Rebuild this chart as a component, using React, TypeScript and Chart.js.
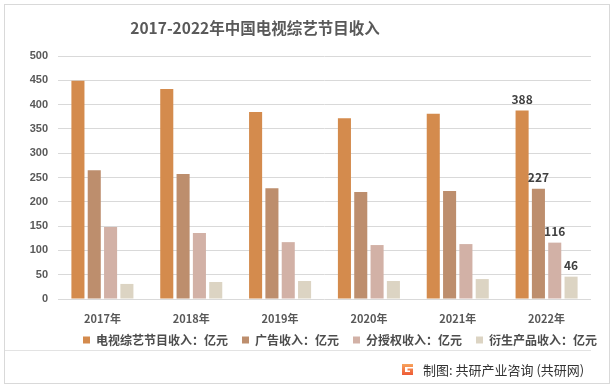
import React, { useEffect, useRef } from "react";
import { Chart, registerables } from "chart.js";

Chart.register(...registerables);

const categories = ["2017年", "2018年", "2019年", "2020年", "2021年", "2022年"];
const tvShowRevenue = [449, 432, 385, 372, 381, 388];
const adRevenue = [265, 257, 228, 220, 222, 227];
const licensingRevenue = [148, 136, 117, 111, 113, 116];
const derivativeRevenue = [31, 35, 37, 37, 41, 46];
const seriesNames = [
  "电视综艺节目收入：亿元",
  "广告收入：亿元",
  "分授权收入：亿元",
  "衍生产品收入：亿元",
];
const seriesColors = ["#D48B4D", "#BD8E6D", "#D2B1A6", "#DCD4C3"];
const yTicks = [0, 50, 100, 150, 200, 250, 300, 350, 400, 450, 500];

const CJK = '"Noto Sans CJK SC", "Noto Sans", sans-serif';

const lastLabelsPlugin = {
  id: "lastLabels",
  afterDatasetsDraw(chart: any) {
    const ctx = chart.ctx;
    ctx.save();
    ctx.font = `bold 12px ${CJK}`;
    ctx.fillStyle = "#404040";
    ctx.textAlign = "center";
    ctx.textBaseline = "bottom";
    chart.data.datasets.forEach((ds: any, i: number) => {
      const meta = chart.getDatasetMeta(i);
      const idx = ds.data.length - 1;
      const el = meta.data[idx];
      if (!el) return;
      ctx.fillText(String(ds.data[idx]), el.x, el.y - 5);
    });
    ctx.restore();
  },
};

const legendPlacePlugin = {
  id: "legendPlace",
  afterLayout(chart: any) {
    const lg = chart.legend;
    if (!lg) return;
    const h = lg.bottom - lg.top;
    lg.left = 69;
    lg.right = 615;
    lg.top = 320;
    lg.bottom = 320 + h;
  },
};

function G() {
  return (
    <svg width="13" height="13" viewBox="0 0 13 13" style={{ position: "absolute", left: 401, top: 363 }}>
      <defs>
        <linearGradient id="lg" x1="0" y1="0" x2="0" y2="1">
          <stop offset="0" stopColor="#F7A35C" />
          <stop offset="1" stopColor="#EE5A36" />
        </linearGradient>
      </defs>
      <path d="M1 1 H12 V4 H4 V9 H9 V7.5 H6.5 V5.5 H12 V12 H1 Z" fill="url(#lg)" />
    </svg>
  );
}

export default function App() {
  const ref = useRef<HTMLCanvasElement>(null);
  useEffect(() => {
    if (!ref.current) return;
    const datas = [tvShowRevenue, adRevenue, licensingRevenue, derivativeRevenue];
    const chart = new Chart(ref.current, {
      type: "bar",
      data: {
        labels: categories,
        datasets: datas.map((d, i) => ({
          label: seriesNames[i],
          data: d,
          backgroundColor: seriesColors[i],
          borderWidth: 0,
          barPercentage: 0.8,
          categoryPercentage: 0.735,
        })),
      },
      options: {
        responsive: false,
        animation: false,
        layout: { padding: { top: 56, left: 0, right: 24, bottom: 29 } },
        plugins: {
          title: { display: false },
          tooltip: { enabled: false },
          legend: {
            display: true,
            position: "bottom",
            align: "start",
            labels: {
              boxWidth: 7,
              boxHeight: 7,
              padding: 14,
              color: "#4D4D4D",
              font: { family: CJK, size: 12, weight: "bold" },
            },
          },
        },
        scales: {
          x: {
            grid: { display: false, drawTicks: false },
            border: { display: false },
            ticks: {
              color: "#595959",
              padding: 13,
              font: { family: CJK, size: 11, weight: "bold" },
            },
            afterFit: (axis: any) => {
              axis.height = 26;
            },
          },
          y: {
            min: 0,
            max: 500,
            grid: { color: "#D9D9D9", lineWidth: 1, drawTicks: false },
            border: { display: false },
            afterBuildTicks: (axis: any) => {
              axis.ticks = yTicks.map((v) => ({ value: v }));
            },
            ticks: {
              color: "#595959",
              padding: 10,
              font: { family: '"Liberation Sans", Arial, sans-serif', size: 11, weight: "bold" },
            },
            afterFit: (axis: any) => {
              axis.width = 58;
            },
          },
        },
      },
      plugins: [lastLabelsPlugin, legendPlacePlugin],
    });
    return () => chart.destroy();
  }, []);

  return (
    <div style={{ position: "fixed", left: 0, top: 0, width: 615, height: 390, background: "#fff", overflow: "hidden" }}>
      <div
        style={{
          position: "absolute",
          left: 4,
          top: 4,
          width: 606,
          height: 380,
          border: "1px solid #D9D9D9",
          boxSizing: "border-box",
        }}
      />
      <canvas ref={ref} width={615} height={390} style={{ position: "absolute", left: 0, top: 0 }} />
      <div
        style={{
          position: "absolute",
          left: 0,
          top: 17,
          width: 510,
          textAlign: "center",
          fontFamily: CJK,
          fontWeight: "bold",
          fontSize: 15.5,
          lineHeight: "20px",
          color: "#595959",
        }}
      >
        2017-2022年中国电视综艺节目收入
      </div>
      <div style={{ position: "absolute", left: 5, top: 350, width: 586, height: 1, background: "#E3E3E3" }} />
      <G />
      <div
        style={{
          position: "absolute",
          left: 423,
          top: 360,
          fontFamily: CJK,
          fontSize: 13,
          lineHeight: "19px",
          color: "#333",
          whiteSpace: "nowrap",
        }}
      >
        制图: 共研产业咨询 (共研网)
      </div>
    </div>
  );
}
